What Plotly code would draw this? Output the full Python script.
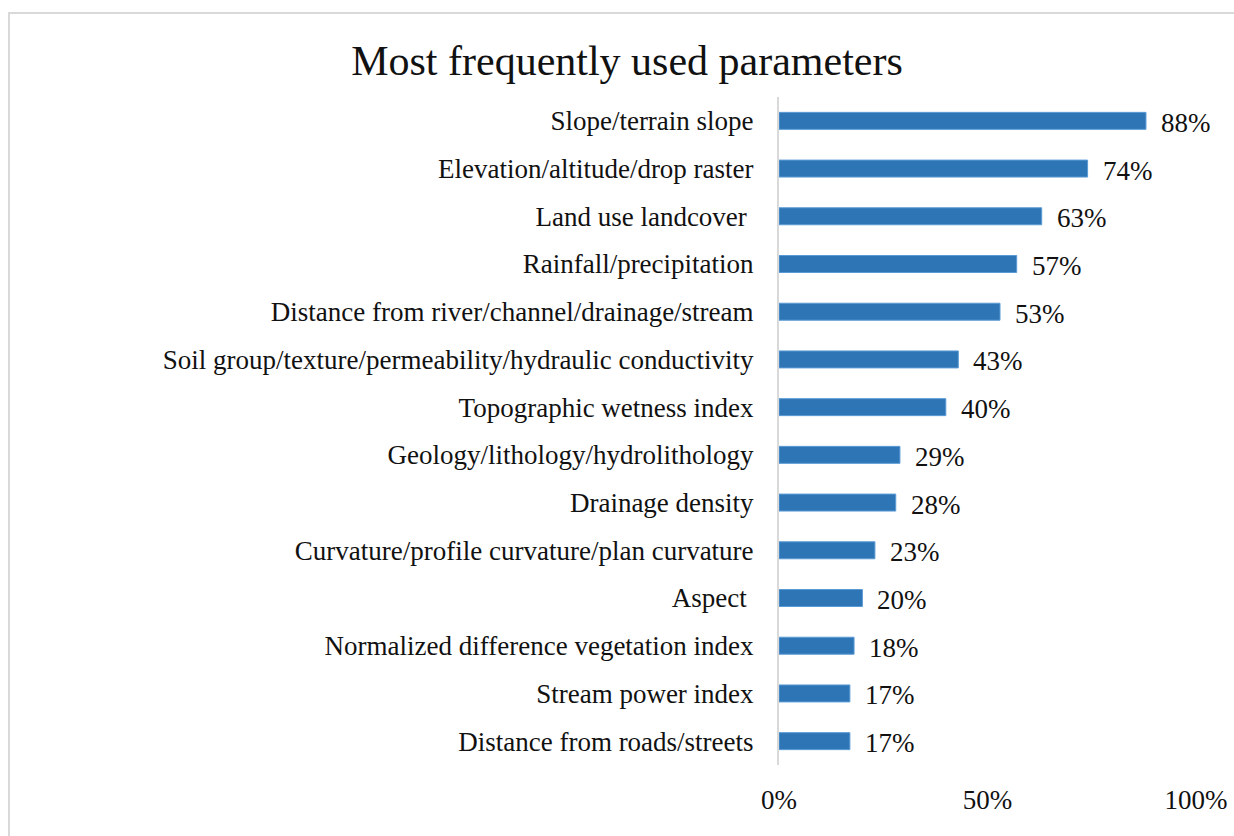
import plotly.graph_objects as go

# Parameter names (top to bottom as displayed) and their usage share in percent
parameters = [
    "Slope/terrain slope",
    "Elevation/altitude/drop raster",
    "Land use landcover ",
    "Rainfall/precipitation",
    "Distance from river/channel/drainage/stream",
    "Soil group/texture/permeability/hydraulic conductivity",
    "Topographic wetness index",
    "Geology/lithology/hydrolithology",
    "Drainage density",
    "Curvature/profile curvature/plan curvature",
    "Aspect ",
    "Normalized difference vegetation index",
    "Stream power index",
    "Distance from roads/streets",
]
usage_pct = [88, 74, 63, 57, 53, 43, 40, 29, 28, 23, 20, 18, 17, 17]

x_ticks = [0, 50, 100]
x_tick_labels = ["0%", "50%", "100%"]

FONT = "Liberation Serif"
TEXT = "#111111"
BAR_COLOR = "#2E75B6"
LABEL_SIZE = 27

W, H = 1234, 836
ML, MR, MT, MB = 779, 38, 97, 71

fig = go.Figure()
fig.add_trace(go.Bar(
    x=usage_pct,
    y=parameters,
    orientation="h",
    marker=dict(color=BAR_COLOR, line=dict(color="#5B9BD5", width=1)),
    hoverinfo="x+y",
))

# Value labels to the right of each bar
for name, v in zip(parameters, usage_pct):
    fig.add_annotation(
        x=v, y=name, text=f"{v}%", showarrow=False,
        xanchor="left", xshift=13, yshift=-2,
        font=dict(family=FONT, size=LABEL_SIZE, color=TEXT),
    )

# Light frame around the chart area (left and top edges visible)
px = lambda v: (v - ML) / (W - ML - MR)
py = lambda v: 1 - (v - MT) / (H - MT - MB)
fig.add_shape(type="rect", xref="paper", yref="paper",
              x0=px(9), x1=px(W + 10), y0=py(H + 10), y1=py(13),
              line=dict(color="#D9D9D9", width=2), layer="below")

fig.update_layout(
    width=W, height=H,
    margin=dict(l=ML, r=MR, t=MT, b=MB),
    paper_bgcolor="white", plot_bgcolor="white",
    bargap=0.644,
    showlegend=False,
    title=dict(text="Most frequently used parameters", x=627 / W, xanchor="center",
               y=1 - 60 / H, yanchor="middle",
               font=dict(family=FONT, size=42, color=TEXT)),
    font=dict(family=FONT, color=TEXT),
    xaxis=dict(range=[0, 100], tickvals=x_ticks, ticktext=x_tick_labels,
               showgrid=False, zeroline=False, showline=False,
               ticks="", ticklabelstandoff=16, automargin=False,
               tickfont=dict(family=FONT, size=LABEL_SIZE, color=TEXT)),
    yaxis=dict(categoryorder="array", categoryarray=parameters[::-1],
               showgrid=False, zeroline=False,
               showline=True, linecolor="#D9D9D9", linewidth=2,
               ticks="", ticklabelstandoff=18, automargin=False,
               tickfont=dict(family=FONT, size=LABEL_SIZE, color=TEXT)),
)

fig.write_html("out.html")
